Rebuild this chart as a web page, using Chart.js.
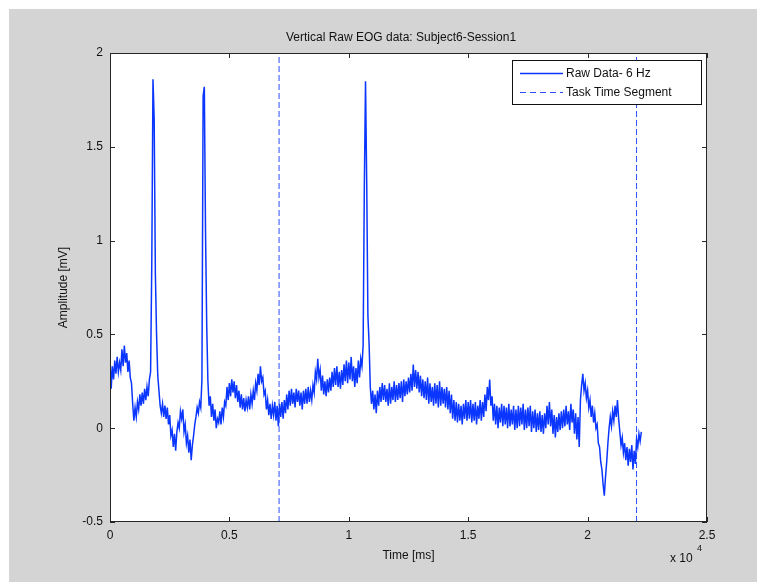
<!DOCTYPE html>
<html>
<head>
<meta charset="utf-8">
<title>Vertical Raw EOG data</title>
<script src="https://cdn.jsdelivr.net/npm/chart.js@4.4.1/dist/chart.umd.min.js"></script>
<style>
    html, body { margin: 0; padding: 0; background: #fff; }
    #figure { position: absolute; left: 9px; top: 9px; width: 748px; height: 573px; background: #d4d4d4; }
</style>
</head>
<body>
<div id="figure"><canvas id="eogChart" width="748" height="573"></canvas></div>
<script>
// ---- data ----
// one sample every 50 ms, starting at t = 0
const sampleStepMs = 50;
const rawAmplitude = [
    0.38, 0.21, 0.33, 0.26, 0.36, 0.29, 0.38, 0.30, 0.35, 0.31, 0.42, 0.33, 0.44, 0.35, 0.40, 0.30, 0.36, 0.27, 0.24, 0.13,
    0.04, 0.11, 0.06, 0.14, 0.10, 0.18, 0.12, 0.19, 0.13, 0.21, 0.15, 0.22, 0.17, 0.26, 0.30, 0.88, 1.86, 1.65, 0.82, 0.50,
    0.28, 0.20, 0.12, 0.08, 0.13, 0.06, 0.12, 0.05, 0.11, 0.02, 0.07, -0.04, -0.01, -0.10, -0.03, -0.12, -0.02, 0.03, 0.00, 0.09,
    0.05, 0.10, -0.02, 0.02, -0.08, -0.04, -0.13, -0.06, -0.17, -0.09, -0.04, 0.02, 0.06, 0.11, 0.08, 0.14, 0.11, 0.26, 1.77, 1.82,
    1.05, 0.55, 0.25, 0.12, 0.17, 0.06, 0.13, 0.04, 0.10, 0.00, 0.05, 0.03, 0.09, 0.02, 0.11, 0.06, 0.14, 0.12, 0.22, 0.15,
    0.24, 0.17, 0.26, 0.19, 0.25, 0.16, 0.23, 0.14, 0.20, 0.11, 0.18, 0.10, 0.16, 0.09, 0.15, 0.11, 0.17, 0.10, 0.18, 0.13,
    0.20, 0.15, 0.24, 0.20, 0.29, 0.23, 0.33, 0.25, 0.27, 0.18, 0.20, 0.10, 0.15, 0.07, 0.13, 0.05, 0.12, 0.07, 0.14, 0.04,
    0.12, 0.01, 0.13, 0.06, 0.14, 0.05, 0.15, 0.08, 0.18, 0.10, 0.20, 0.12, 0.21, 0.13, 0.19, 0.11, 0.21, 0.14, 0.20, 0.12,
    0.19, 0.10, 0.20, 0.13, 0.21, 0.13, 0.22, 0.14, 0.20, 0.15, 0.23, 0.19, 0.30, 0.26, 0.37, 0.27, 0.31, 0.20, 0.28, 0.18,
    0.25, 0.17, 0.26, 0.19, 0.27, 0.20, 0.30, 0.22, 0.32, 0.23, 0.33, 0.22, 0.30, 0.21, 0.31, 0.23, 0.34, 0.25, 0.36, 0.24,
    0.35, 0.26, 0.38, 0.25, 0.33, 0.22, 0.32, 0.24, 0.36, 0.27, 0.37, 0.33, 0.44, 1.28, 1.85, 1.31, 0.60, 0.45, 0.22, 0.13,
    0.20, 0.10, 0.18, 0.08, 0.20, 0.12, 0.22, 0.14, 0.24, 0.15, 0.23, 0.14, 0.21, 0.12, 0.24, 0.13, 0.22, 0.15, 0.25, 0.14,
    0.23, 0.15, 0.24, 0.16, 0.25, 0.14, 0.26, 0.17, 0.25, 0.18, 0.27, 0.19, 0.29, 0.20, 0.34, 0.22, 0.31, 0.21, 0.30, 0.19,
    0.28, 0.17, 0.26, 0.16, 0.25, 0.15, 0.27, 0.13, 0.24, 0.14, 0.22, 0.12, 0.24, 0.13, 0.23, 0.11, 0.25, 0.12, 0.22, 0.13,
    0.21, 0.11, 0.22, 0.10, 0.20, 0.08, 0.18, 0.05, 0.15, 0.04, 0.14, 0.03, 0.13, 0.04, 0.12, 0.02, 0.13, 0.05, 0.15, 0.04,
    0.14, 0.05, 0.15, 0.03, 0.13, 0.04, 0.14, 0.02, 0.12, 0.05, 0.15, 0.04, 0.14, 0.06, 0.18, 0.09, 0.22, 0.15, 0.26, 0.12,
    0.17, 0.04, 0.13, 0.02, 0.12, 0.00, 0.11, 0.03, 0.13, 0.01, 0.12, 0.02, 0.11, 0.00, 0.13, 0.01, 0.10, 0.02, 0.12, -0.01,
    0.10, 0.00, 0.12, 0.01, 0.11, 0.02, 0.13, -0.01, 0.10, 0.00, 0.11, 0.01, 0.12, -0.02, 0.09, 0.00, 0.10, -0.02, 0.08, -0.01,
    0.09, -0.02, 0.07, -0.03, 0.08, 0.00, 0.12, 0.02, 0.14, 0.01, 0.10, -0.03, 0.07, -0.05, 0.06, -0.02, 0.08, -0.01, 0.09, 0.00,
    0.10, 0.01, 0.12, 0.02, 0.09, -0.01, 0.13, 0.03, 0.10, -0.03, 0.08, -0.06, 0.06, -0.10, 0.15, 0.23, 0.29, 0.20, 0.24, 0.16,
    0.20, 0.11, 0.15, 0.06, 0.12, 0.03, 0.08, 0.00, 0.02, -0.08, -0.10, -0.18, -0.22, -0.30, -0.36, -0.26, -0.18, -0.08, 0.00, 0.06,
    0.01, 0.09, 0.04, 0.12, 0.06, 0.15, 0.05, -0.02, -0.09, -0.05, -0.13, -0.08, -0.17, -0.10, -0.20, -0.11, -0.18, -0.09, -0.22, -0.12,
    -0.19, -0.06, -0.10, -0.03, -0.07, -0.02
];

// start and end of the task segment (ms)
const taskSegmentMs = [7080, 22050];

const xTickValues = [0, 5000, 10000, 15000, 20000, 25000];
const xTickLabels = ['0', '0.5', '1', '1.5', '2', '2.5'];
const yTickValues = [-0.5, 0, 0.5, 1, 1.5, 2];
const yTickLabels = ['-0.5', '0', '0.5', '1', '1.5', '2'];

const seriesLabels = ['Raw Data- 6 Hz', 'Task Time Segment'];
const chartTitle = 'Vertical Raw EOG data: Subject6-Session1';

// ---- build points ----
const rawPoints = rawAmplitude.map((v, i) => ({ x: i * sampleStepMs, y: v }));

const yMin = yTickValues[0];
const yMax = yTickValues[yTickValues.length - 1];
const segmentPoints = [];
taskSegmentMs.forEach((t, i) => {
    if (i > 0) segmentPoints.push({ x: t, y: null });
    segmentPoints.push({ x: t, y: yMin }, { x: t, y: yMax });
});

const FONT = "'Liberation Sans', Arial, sans-serif";
const LINE_BLUE = '#0a36ff';
const DASH_BLUE = '#2a4dff';

// MATLAB style frame: white axes, box, inward ticks, legend, title, exponent
const matlabFrame = {
    id: 'matlabFrame',
    beforeDraw(chart) {
        const { ctx, chartArea: a } = chart;
        ctx.save();
        ctx.fillStyle = '#fff';
        ctx.fillRect(a.left, a.top, a.right - a.left, a.bottom - a.top);
        ctx.restore();
    },
    afterDraw(chart) {
        const { ctx, chartArea: a, scales } = chart;
        ctx.save();

        // box
        ctx.strokeStyle = '#262626';
        ctx.lineWidth = 1;
        ctx.strokeRect(a.left + 0.5, a.top + 0.5, a.right - a.left - 1, a.bottom - a.top - 1);

        // inward ticks
        const tl = 5;
        ctx.beginPath();
        xTickValues.forEach(v => {
            const px = Math.round(scales.x.getPixelForValue(v)) + 0.5;
            ctx.moveTo(px, a.bottom); ctx.lineTo(px, a.bottom - tl);
            ctx.moveTo(px, a.top); ctx.lineTo(px, a.top + tl);
        });
        yTickValues.forEach(v => {
            const py = Math.round(scales.y.getPixelForValue(v)) + 0.5;
            ctx.moveTo(a.left, py); ctx.lineTo(a.left + tl, py);
            ctx.moveTo(a.right, py); ctx.lineTo(a.right - tl, py);
        });
        ctx.stroke();

        // title
        ctx.fillStyle = '#111';
        ctx.font = '12px ' + FONT;
        ctx.textAlign = 'center';
        ctx.textBaseline = 'middle';
        ctx.fillText(chartTitle, 392, 29);

        // x 10^4
        ctx.textAlign = 'left';
        ctx.fillText('x 10', 661, 550);
        ctx.font = '9px ' + FONT;
        ctx.fillText('4', 688, 540);

        // legend
        const lx = 503.5, ly = 51.5, lw = 189, lh = 44;
        ctx.fillStyle = '#fff';
        ctx.fillRect(lx, ly, lw, lh);
        ctx.strokeStyle = '#111';
        ctx.strokeRect(lx, ly, lw, lh);

        ctx.lineWidth = 1.3;
        ctx.strokeStyle = LINE_BLUE;
        ctx.beginPath();
        ctx.moveTo(511, 64.5); ctx.lineTo(554, 64.5);
        ctx.stroke();
        ctx.lineWidth = 1;
        ctx.strokeStyle = DASH_BLUE;
        ctx.setLineDash([6, 4]);
        ctx.beginPath();
        ctx.moveTo(511, 83.5); ctx.lineTo(554, 83.5);
        ctx.stroke();
        ctx.setLineDash([]);

        ctx.fillStyle = '#111';
        ctx.font = '12px ' + FONT;
        ctx.textBaseline = 'middle';
        ctx.fillText(seriesLabels[0], 557, 64.5);
        ctx.fillText(seriesLabels[1], 557, 83.5);

        ctx.restore();
    }
};

Chart.defaults.font.family = FONT;
Chart.defaults.font.size = 12;
Chart.defaults.color = '#111';

new Chart(document.getElementById('eogChart'), {
    type: 'line',
    data: {
        datasets: [
            {
                label: seriesLabels[0],
                data: rawPoints,
                borderColor: LINE_BLUE,
                borderWidth: 1.5,
                pointRadius: 0,
                tension: 0,
                fill: false
            },
            {
                label: seriesLabels[1],
                data: segmentPoints,
                borderColor: DASH_BLUE,
                borderWidth: 1,
                borderDash: [6, 3],
                pointRadius: 0,
                spanGaps: false,
                fill: false
            }
        ]
    },
    options: {
        responsive: false,
        animation: false,
        devicePixelRatio: 1,
        layout: { padding: { top: 44, right: 50, bottom: 0, left: 0 } },
        plugins: {
            legend: { display: false },
            tooltip: { enabled: false },
            title: { display: false }
        },
        scales: {
            x: {
                type: 'linear',
                min: xTickValues[0],
                max: xTickValues[xTickValues.length - 1],
                grid: { display: false, drawTicks: false },
                border: { display: false },
                ticks: {
                    stepSize: 5000,
                    autoSkip: false,
                    maxRotation: 0,
                    padding: 6,
                    callback: v => xTickLabels[xTickValues.indexOf(v)]
                },
                title: { display: true, text: 'Time [ms]', padding: { top: 0, bottom: 19 } },
                afterFit: s => { s.height = 60; }
            },
            y: {
                type: 'linear',
                min: yMin,
                max: yMax,
                grid: { display: false, drawTicks: false },
                border: { display: false },
                ticks: {
                    stepSize: 0.5,
                    padding: 7,
                    callback: v => yTickLabels[yTickValues.indexOf(v)]
                },
                title: { display: true, text: 'Amplitude [mV]', padding: { top: 47, bottom: 0 } },
                afterFit: s => { s.width = 101; }
            }
        }
    },
    plugins: [matlabFrame]
});
</script>
</body>
</html>
